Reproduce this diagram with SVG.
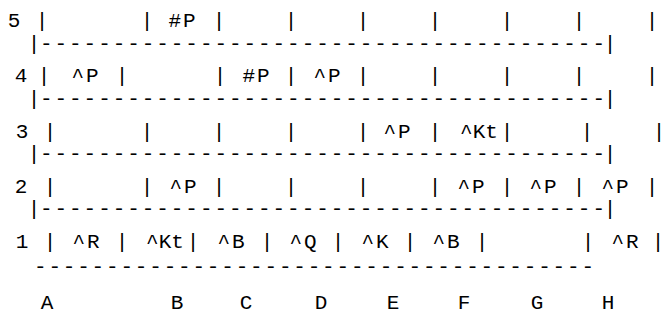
<svg xmlns="http://www.w3.org/2000/svg" width="664" height="322" viewBox="0 0 664 322">
<style>
text{font-family:"Liberation Mono","Courier New",monospace;font-size:21px;fill:#000;text-anchor:middle}
.w{letter-spacing:1.8px}
.d{text-anchor:start}
</style>
<rect width="664" height="322" fill="#fff"/>
<g id="row5">
<text x="14" y="27">5</text>
<text x="42" y="27">|</text><text x="147" y="27">|</text><text x="219" y="27">|</text><text x="291" y="27">|</text><text x="363" y="27">|</text><text x="435" y="27">|</text><text x="507" y="27">|</text><text x="579" y="27">|</text><text x="652" y="27">|</text>
<text class="w" x="183" y="27">#P</text>
</g>
<g id="rule1">
<text x="34" y="50">|</text><text x="610" y="50">|</text>
<text class="d" x="40" y="50" textLength="565" lengthAdjust="spacing">---------------------------------------</text>
</g>
<g id="row4">
<text x="21" y="82">4</text>
<text x="44" y="82">|</text><text x="122" y="82">|</text><text x="220" y="82">|</text><text x="291" y="82">|</text><text x="363" y="82">|</text><text x="435" y="82">|</text><text x="507" y="82">|</text><text x="579" y="82">|</text><text x="652" y="82">|</text>
<text class="w" x="86" y="82">^P</text><text class="w" x="257" y="82">#P</text><text class="w" x="328" y="82">^P</text>
</g>
<g id="rule2">
<text x="34" y="105">|</text><text x="610" y="105">|</text>
<text class="d" x="40" y="105" textLength="565" lengthAdjust="spacing">---------------------------------------</text>
</g>
<g id="row3">
<text x="22" y="138">3</text>
<text x="50" y="138">|</text><text x="147" y="138">|</text><text x="219" y="138">|</text><text x="291" y="138">|</text><text x="363" y="138">|</text><text x="435" y="138">|</text><text x="507" y="138">|</text><text x="587" y="138">|</text><text x="659" y="138">|</text>
<text class="w" x="398" y="138">^P</text><text x="479" y="138">^Kt</text>
</g>
<g id="rule3">
<text x="34" y="160">|</text><text x="610" y="160">|</text>
<text class="d" x="40" y="160" textLength="565" lengthAdjust="spacing">---------------------------------------</text>
</g>
<g id="row2">
<text x="21" y="193">2</text>
<text x="50" y="193">|</text><text x="147" y="193">|</text><text x="219" y="193">|</text><text x="291" y="193">|</text><text x="363" y="193">|</text><text x="435" y="193">|</text><text x="507" y="193">|</text><text x="579" y="193">|</text><text x="652" y="193">|</text>
<text class="w" x="184" y="193">^P</text><text class="w" x="472" y="193">^P</text><text class="w" x="544" y="193">^P</text><text class="w" x="616" y="193">^P</text>
</g>
<g id="rule4">
<text x="34" y="215">|</text><text x="610" y="215">|</text>
<text class="d" x="40" y="215" textLength="565" lengthAdjust="spacing">---------------------------------------</text>
</g>
<g id="row1">
<text x="22" y="248">1</text>
<text x="50" y="248">|</text><text x="122" y="248">|</text><text x="193" y="248">|</text><text x="267" y="248">|</text><text x="338" y="248">|</text><text x="410" y="248">|</text><text x="482" y="248">|</text><text x="588" y="248">|</text><text x="658" y="248">|</text>
<text class="w" x="87" y="248">^R</text><text x="165" y="248">^Kt</text><text class="w" x="232" y="248">^B</text><text class="w" x="304" y="248">^Q</text><text class="w" x="376" y="248">^K</text><text class="w" x="447" y="248">^B</text><text class="w" x="626" y="248">^R</text>
</g>
<g id="rule5">
<text class="d" x="34" y="273" textLength="560" lengthAdjust="spacing">---------------------------------------</text>
</g>
<g id="files">
<text x="47" y="309">A</text><text x="177" y="309">B</text><text x="246" y="309">C</text><text x="321" y="309">D</text><text x="393" y="309">E</text><text x="464" y="309">F</text><text x="537" y="309">G</text><text x="608" y="309">H</text>
</g>
</svg>
